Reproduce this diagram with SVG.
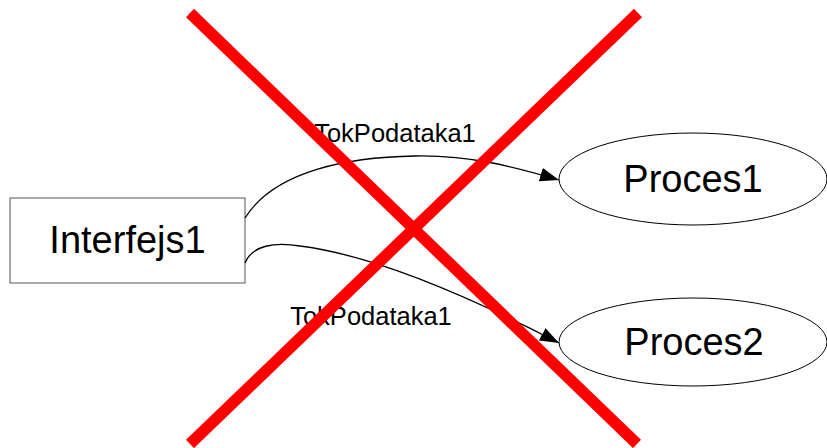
<svg xmlns="http://www.w3.org/2000/svg" width="827" height="448" viewBox="0 0 827 448">
<style>
.node{fill:#fff;stroke:#000;stroke-width:1}
.box{fill:#fff;stroke:#555;stroke-width:1}
.big{font-family:"Liberation Sans",Arial,sans-serif;font-size:38px;fill:#000;text-anchor:middle}
.lbl{font-family:"Liberation Sans",Arial,sans-serif;font-size:25.5px;fill:#000;text-anchor:middle}
.edge{fill:none;stroke:#000;stroke-width:1.3}
.x{stroke:#ff0000;stroke-width:11.5;stroke-linecap:butt}
</style>
<defs>
<marker id="arr" markerWidth="20" markerHeight="14" refX="19" refY="7" orient="auto" markerUnits="userSpaceOnUse">
<path d="M0,0 L19,7 L0,14 Z" fill="#000"/>
</marker>
</defs>
<rect width="827" height="448" fill="#fff"/>
<g id="Interfejs1">
<rect class="box" x="10" y="198" width="235" height="85"/>
<text class="big" x="127.5" y="253">Interfejs1</text>
</g>
<g id="Proces1">
<ellipse class="node" cx="693" cy="179" rx="134" ry="46"/>
<text class="big" x="693" y="192">Proces1</text>
</g>
<g id="Proces2">
<ellipse class="node" cx="693" cy="342" rx="134" ry="44"/>
<text class="big" x="694" y="355">Proces2</text>
</g>
<g id="connectors">
<path class="edge" d="M245,218 C275,170 350,157 415,156 C470,155 515,167 559,180" marker-end="url(#arr)"/>
<text class="lbl" x="395" y="142">TokPodataka1</text>
<path class="edge" d="M245,263 C252,245 275,242 300,246 C380,256 480,302 559,343" marker-end="url(#arr)"/>
<text class="lbl" x="371" y="325">TokPodataka1</text>
</g>
<g id="cross">
<line class="x" x1="190" y1="13" x2="637" y2="444"/>
<line class="x" x1="638" y1="13" x2="190" y2="444"/>
</g>
</svg>
